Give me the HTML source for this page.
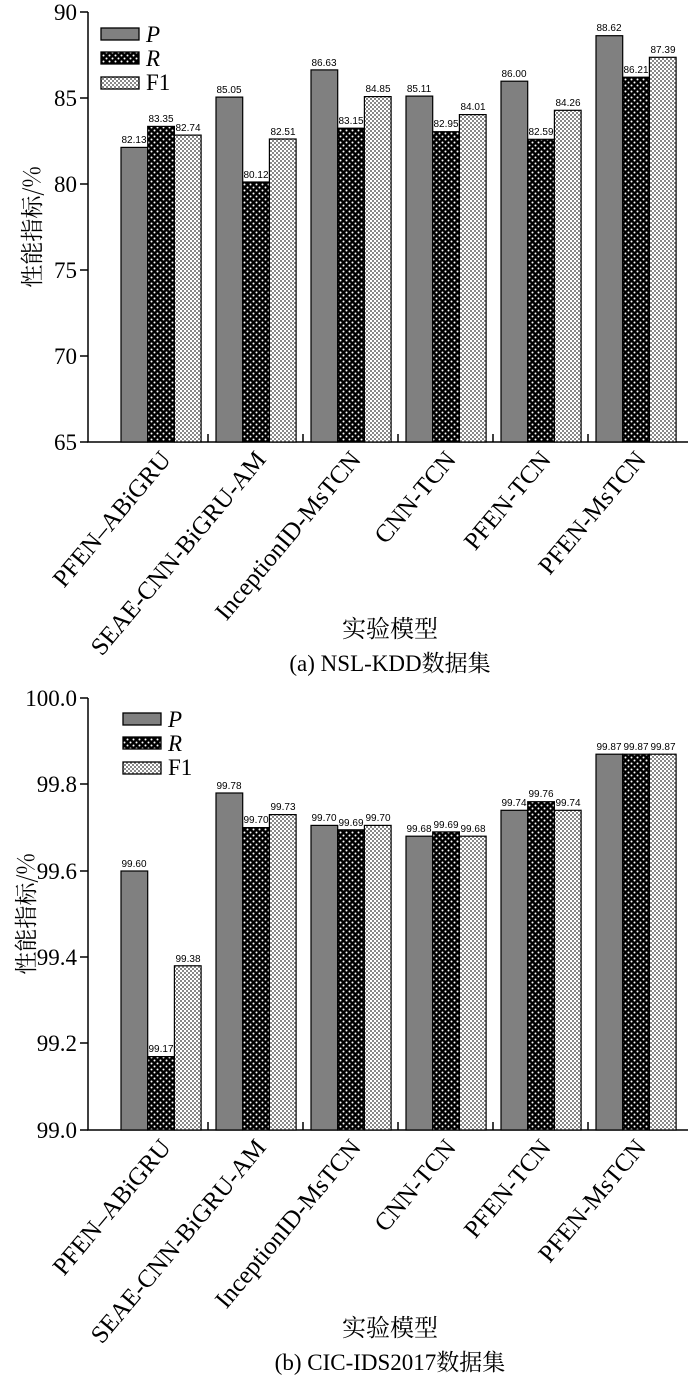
<!DOCTYPE html>
<html><head><meta charset="utf-8"><style>
html,body{margin:0;padding:0;background:#fff;}
svg{display:block;}
</style></head><body>
<svg width="700" height="1382" viewBox="0 0 700 1382" xmlns="http://www.w3.org/2000/svg" font-family="Liberation Serif, 'Noto Serif CJK SC', serif">
<defs>
<pattern id="dots" width="6" height="6" patternUnits="userSpaceOnUse">
<rect width="6" height="6" fill="#000"/>
<circle cx="1.5" cy="1.5" r="1" fill="#fff"/>
<circle cx="4.5" cy="4.5" r="1" fill="#fff"/>
</pattern>
<pattern id="chk" width="4" height="4" patternUnits="userSpaceOnUse">
<rect width="4" height="4" fill="#fff"/>
<rect width="2" height="2" fill="#888"/>
<rect x="2" y="2" width="2" height="2" fill="#888"/>
</pattern>
</defs>

<!-- Chart A -->
<g stroke="#000" stroke-width="1.5" fill="none">
<path d="M88 12 V442 H688"/>
<path d="M88 12 h-8 M88 98 h-8 M88 184 h-8 M88 270 h-8 M88 356 h-8 M88 442 h-8"/>
<path d="M208 442 v-8 M303 442 v-8 M398 442 v-8 M493 442 v-8 M588 442 v-8"/>
</g>
<g font-size="23" text-anchor="end">
<text x="77" y="20">90</text><text x="77" y="106">85</text><text x="77" y="192">80</text>
<text x="77" y="278">75</text><text x="77" y="364">70</text><text x="77" y="450">65</text>
</g>
<g stroke="#000" stroke-width="1.3">
<rect x="101" y="28" width="38" height="12" fill="#808080"/>
<rect x="101" y="52" width="38" height="12" fill="url(#dots)"/>
<rect x="101" y="77" width="38" height="12" fill="url(#chk)"/>
</g>
<g font-size="23"><text x="146" y="42" font-style="italic">P</text><text x="146" y="66" font-style="italic">R</text><text x="146" y="90">F1</text></g>

<g stroke="#000" stroke-width="1.2">
<rect x="121" y="147.4" width="26.7" height="294.6" fill="#808080"/>
<rect x="147.7" y="126.4" width="26.7" height="315.6" fill="url(#dots)"/>
<rect x="174.4" y="135.1" width="26.7" height="306.9" fill="url(#chk)"/>
<rect x="216" y="97.1" width="26.7" height="344.9" fill="#808080"/>
<rect x="242.7" y="182" width="26.7" height="260" fill="url(#dots)"/>
<rect x="269.4" y="139" width="26.7" height="303" fill="url(#chk)"/>
<rect x="311" y="69.9" width="26.7" height="372.1" fill="#808080"/>
<rect x="337.7" y="128.2" width="26.7" height="313.8" fill="url(#dots)"/>
<rect x="364.4" y="96.6" width="26.7" height="345.4" fill="url(#chk)"/>
<rect x="406" y="96.1" width="26.7" height="345.9" fill="#808080"/>
<rect x="432.7" y="131.7" width="26.7" height="310.3" fill="url(#dots)"/>
<rect x="459.4" y="114.6" width="26.7" height="327.4" fill="url(#chk)"/>
<rect x="501" y="81.2" width="26.7" height="360.8" fill="#808080"/>
<rect x="527.7" y="139.3" width="26.7" height="302.7" fill="url(#dots)"/>
<rect x="554.4" y="110.3" width="26.7" height="331.7" fill="url(#chk)"/>
<rect x="596" y="35.7" width="26.7" height="406.3" fill="#808080"/>
<rect x="622.7" y="77.2" width="26.7" height="364.8" fill="url(#dots)"/>
<rect x="649.4" y="57.3" width="26.7" height="384.7" fill="url(#chk)"/>
</g>
<g font-family="Liberation Sans, sans-serif" font-size="10" text-anchor="middle">
<text x="134" y="143">82.13</text><text x="161" y="122">83.35</text><text x="188" y="131">82.74</text>
<text x="229" y="93">85.05</text><text x="256" y="178">80.12</text><text x="283" y="135">82.51</text>
<text x="324" y="66">86.63</text><text x="351" y="124">83.15</text><text x="378" y="92">84.85</text>
<text x="419" y="92">85.11</text><text x="446" y="127">82.95</text><text x="473" y="110">84.01</text>
<text x="514" y="77">86.00</text><text x="541" y="135">82.59</text><text x="568" y="106">84.26</text>
<text x="609" y="31">88.62</text><text x="636" y="73">86.21</text><text x="663" y="53">87.39</text>
</g>
<g font-size="25" text-anchor="end">
<text transform="translate(172,460) rotate(-50)">PFEN–ABiGRU</text>
<text transform="translate(267,460) rotate(-50)">SEAE-CNN-BiGRU-AM</text>
<text transform="translate(362,460) rotate(-50)">InceptionID-MsTCN</text>
<text transform="translate(457,460) rotate(-50)">CNN-TCN</text>
<text transform="translate(552,460) rotate(-50)">PFEN-TCN</text>
<text transform="translate(647,460) rotate(-50)">PFEN-MsTCN</text>
</g>
<text transform="translate(40,227) rotate(-90)" font-size="23" text-anchor="middle" font-family="'Noto Serif CJK SC', serif">性能指标/%</text>
<text x="390" y="637" font-size="24" text-anchor="middle">实验模型</text>
<text x="390" y="671" font-size="23" text-anchor="middle">(a) NSL-KDD数据集</text>

<!-- Chart B -->
<g stroke="#000" stroke-width="1.5" fill="none">
<path d="M88 698 V1130 H688"/>
<path d="M88 698 h-8 M88 784 h-8 M88 871 h-8 M88 957 h-8 M88 1043 h-8 M88 1130 h-8"/>
<path d="M208 1130 v-8 M303 1130 v-8 M398 1130 v-8 M493 1130 v-8 M588 1130 v-8"/>
</g>
<g font-size="23" text-anchor="end">
<text x="77" y="706">100.0</text><text x="77" y="792">99.8</text><text x="77" y="879">99.6</text>
<text x="77" y="965">99.4</text><text x="77" y="1051">99.2</text><text x="77" y="1138">99.0</text>
</g>
<g stroke="#000" stroke-width="1.3">
<rect x="123" y="713" width="38" height="12" fill="#808080"/>
<rect x="123" y="737" width="38" height="12" fill="url(#dots)"/>
<rect x="123" y="762" width="38" height="12" fill="url(#chk)"/>
</g>
<g font-size="23"><text x="168" y="727" font-style="italic">P</text><text x="168" y="751" font-style="italic">R</text><text x="168" y="775">F1</text></g>
<g stroke="#000" stroke-width="1.2">
<rect x="121" y="871" width="26.7" height="259" fill="#808080"/>
<rect x="147.7" y="1056.6" width="26.7" height="73.4" fill="url(#dots)"/>
<rect x="174.4" y="965.8" width="26.7" height="164.2" fill="url(#chk)"/>
<rect x="216" y="793" width="26.7" height="337" fill="#808080"/>
<rect x="242.7" y="827.6" width="26.7" height="302.4" fill="url(#dots)"/>
<rect x="269.4" y="814.6" width="26.7" height="315.4" fill="url(#chk)"/>
<rect x="311" y="825.4" width="26.7" height="304.6" fill="#808080"/>
<rect x="337.7" y="829.8" width="26.7" height="300.2" fill="url(#dots)"/>
<rect x="364.4" y="825.4" width="26.7" height="304.6" fill="url(#chk)"/>
<rect x="406" y="836.2" width="26.7" height="293.8" fill="#808080"/>
<rect x="432.7" y="831.9" width="26.7" height="298.1" fill="url(#dots)"/>
<rect x="459.4" y="836.2" width="26.7" height="293.8" fill="url(#chk)"/>
<rect x="501" y="810.3" width="26.7" height="319.7" fill="#808080"/>
<rect x="527.7" y="801.7" width="26.7" height="328.3" fill="url(#dots)"/>
<rect x="554.4" y="810.3" width="26.7" height="319.7" fill="url(#chk)"/>
<rect x="596" y="754.2" width="26.7" height="375.8" fill="#808080"/>
<rect x="622.7" y="754.2" width="26.7" height="375.8" fill="url(#dots)"/>
<rect x="649.4" y="754.2" width="26.7" height="375.8" fill="url(#chk)"/>
</g>
<g font-family="Liberation Sans, sans-serif" font-size="10" text-anchor="middle">
<text x="134" y="867">99.60</text><text x="161" y="1052">99.17</text><text x="188" y="962">99.38</text>
<text x="229" y="789">99.78</text><text x="256" y="823">99.70</text><text x="283" y="810">99.73</text>
<text x="324" y="821">99.70</text><text x="351" y="826">99.69</text><text x="378" y="821">99.70</text>
<text x="419" y="832">99.68</text><text x="446" y="828">99.69</text><text x="473" y="832">99.68</text>
<text x="514" y="806">99.74</text><text x="541" y="797">99.76</text><text x="568" y="806">99.74</text>
<text x="609" y="750">99.87</text><text x="636" y="750">99.87</text><text x="663" y="750">99.87</text>
</g>
<g font-size="25" text-anchor="end">
<text transform="translate(172,1148) rotate(-50)">PFEN–ABiGRU</text>
<text transform="translate(267,1148) rotate(-50)">SEAE-CNN-BiGRU-AM</text>
<text transform="translate(362,1148) rotate(-50)">InceptionID-MsTCN</text>
<text transform="translate(457,1148) rotate(-50)">CNN-TCN</text>
<text transform="translate(552,1148) rotate(-50)">PFEN-TCN</text>
<text transform="translate(647,1148) rotate(-50)">PFEN-MsTCN</text>
</g>
<text transform="translate(34,914) rotate(-90)" font-size="23" text-anchor="middle" font-family="'Noto Serif CJK SC', serif">性能指标/%</text>
<text x="390" y="1336" font-size="24" text-anchor="middle">实验模型</text>
<text x="390" y="1370" font-size="23" text-anchor="middle">(b) CIC-IDS2017数据集</text>
</svg>
</body></html>
